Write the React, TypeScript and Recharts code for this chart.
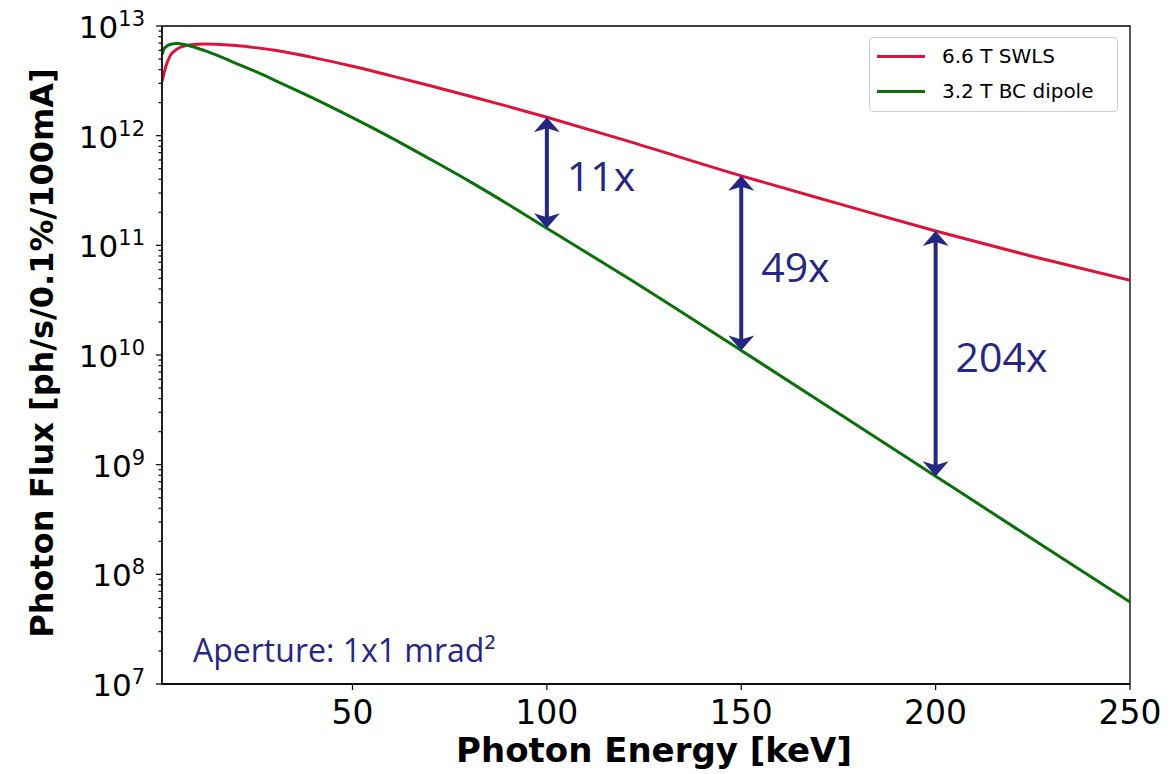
import { LineChart, Line, XAxis, YAxis, ReferenceLine, ReferenceArea, Legend, Customized } from "recharts";

// photon energy grid [keV]
const energy = [1, 1.5, 2, 3, 5, 8, 12, 16, 20, 25, 30, 40, 50, 60, 70, 80, 90, 100, 120, 150, 175, 200, 225, 250];

// 6.6 T SWLS flux [ph/s/0.1%/100mA]
const swlsFlux = [
  3.1e12, 3.7e12, 4.3e12, 5.25e12, 6.2e12, 6.7e12, 6.86e12, 6.79e12, 6.64e12, 6.35e12, 6.0e12, 5.15e12,
  4.29e12, 3.51e12, 2.85e12, 2.3e12, 1.85e12, 1.47e12, 9.1e11, 4.3e11, 2.4e11, 1.35e11, 7.9e10, 4.8e10,
];

// 3.2 T BC dipole flux [ph/s/0.1%/100mA]
const dipoleFlux = [
  5.5e12, 6.17e12, 6.46e12, 6.79e12, 6.92e12, 6.61e12, 5.96e12, 5.25e12, 4.57e12, 3.85e12, 3.2e12, 2.19e12,
  1.46e12, 9.55e11, 6.1e11, 3.85e11, 2.37e11, 1.43e11, 5.25e10, 1.1e10, 2.95e9, 7.85e8, 2.09e8, 5.6e7,
];

const seriesNames = ["6.6 T SWLS", "3.2 T BC dipole"];
const xTicks = [50, 100, 150, 200, 250];
const yDecades = [7, 8, 9, 10, 11, 12, 13];

// gain annotations, drawn between the two curves at these energies
const gains = [
  { energy: 100, label: "11x" },
  { energy: 150, label: "49x" },
  { energy: 200, label: "204x" },
];

const data = energy.map((e, i) => ({ energy: e, swls: swlsFlux[i], dipole: dipoleFlux[i] }));

// decade ticks plus log minor ticks
const yTicks = yDecades.flatMap((d) =>
  d === 13 ? [10 ** d] : [1, 2, 3, 4, 5, 6, 7, 8, 9].map((m) => m * 10 ** d)
);

const ANNOT = "#262683";
const AXIS = "#000";

function XTick({ x, y, payload }: any) {
  return (
    <g>
      <line x1={x} x2={x} y1={y} y2={y + 6} stroke={AXIS} strokeWidth={1.2} />
      <text x={x} y={y + 40} textAnchor="middle" fontFamily="DejaVu Sans" fontSize={33} fill="#000">
        {payload.value}
      </text>
    </g>
  );
}

function YTick({ x, y, payload }: any) {
  const v = payload.value;
  const exp = Math.floor(Math.log10(v) + 1e-9);
  const major = Math.abs(v / 10 ** exp - 1) < 1e-6;
  return (
    <g>
      <line x1={x - (major ? 6 : 3.5)} x2={x} y1={y} y2={y} stroke={AXIS} strokeWidth={1.2} />
      {major && (
        <text x={x - 17} y={y + 12} textAnchor="end" fontFamily="DejaVu Sans" fontSize={31} fill="#000">
          10
          <tspan dy={-12} fontSize={21}>
            {exp}
          </tspan>
        </text>
      )}
    </g>
  );
}

function XTitle({ viewBox }: any) {
  const vb = viewBox ?? { x: 154, y: 676, width: 968, height: 80 };
  return (
    <text
      x={vb.x + vb.width / 2 + 8}
      y={vb.y + 78}
      textAnchor="middle"
      fontFamily="DejaVu Sans"
      fontWeight="bold"
      fontSize={34}
      fill="#000"
    >
      Photon Energy [keV]
    </text>
  );
}

function YTitle({ viewBox }: any) {
  const vb = viewBox ?? { x: 10, y: 18, width: 144, height: 658 };
  const cx = vb.x + 35;
  const cy = vb.y + vb.height / 2 - 2;
  return (
    <text
      transform={`translate(${cx},${cy}) rotate(-90)`}
      textAnchor="middle"
      fontFamily="DejaVu Sans"
      fontWeight="bold"
      fontSize={32}
      fill="#000"
    >
      Photon Flux [ph/s/0.1%/100mA]
    </text>
  );
}

function GainArrow({ x1, y1, x2, y2, label }: any) {
  const x = x1;
  const top = Math.min(y1, y2);
  const bot = Math.max(y1, y2);
  return (
    <g>
      <line x1={x} x2={x} y1={top + 8} y2={bot - 8} stroke={ANNOT} strokeWidth={4} />
      <polygon points={`${x},${top} ${x + 13},${top + 15} ${x},${top + 11} ${x - 13},${top + 15}`} fill={ANNOT} />
      <polygon points={`${x},${bot} ${x + 13},${bot - 15} ${x},${bot - 11} ${x - 13},${bot - 15}`} fill={ANNOT} />
      <text x={x + 20} y={(top + bot) / 2 + 4} dy="0.35em" fontFamily="Open Sans" fontSize={41} fill={ANNOT}>
        {label}
      </text>
    </g>
  );
}

function LegendBox({ payload }: any) {
  const items = [...(payload || [])].sort(
    (a: any, b: any) => seriesNames.indexOf(a.value) - seriesNames.indexOf(b.value)
  );
  return (
    <div
      style={{
        width: 249,
        height: 75,
        boxSizing: "border-box",
        border: "1px solid #cfcfcf",
        borderRadius: 4,
        background: "#fff",
        position: "relative",
      }}
    >
      {items.map((p: any, i: number) => (
        <div
          key={i}
          style={{ position: "absolute", left: 7, top: 7 + i * 35, height: 22, display: "flex", alignItems: "center" }}
        >
          <span style={{ display: "inline-block", width: 48, height: 3, background: p.color }} />
          <span style={{ marginLeft: 17, fontFamily: "DejaVu Sans", fontSize: 20, color: "#000", whiteSpace: "nowrap" }}>
            {p.value}
          </span>
        </div>
      ))}
    </div>
  );
}

export default function App() {
  return (
    <LineChart width={1165} height={766} data={data} margin={{ top: 18, right: 43, left: 10, bottom: 10 }}>
      <XAxis
        dataKey="energy"
        type="number"
        domain={[1, 250]}
        ticks={xTicks}
        interval={0}
        height={80}
        tickSize={0}
        tickMargin={0}
        tick={<XTick />}
        tickLine={false}
        axisLine={{ stroke: AXIS, strokeWidth: 1.3 }}
        allowDataOverflow
        label={{ content: (p: any) => <XTitle {...p} /> }}
      />
      <YAxis
        type="number"
        scale="log"
        domain={[1e7, 1e13]}
        ticks={yTicks}
        interval={0}
        width={144}
        tickSize={0}
        tickMargin={0}
        tick={<YTick />}
        tickLine={false}
        axisLine={{ stroke: AXIS, strokeWidth: 1.3 }}
        allowDataOverflow
        label={{ content: (p: any) => <YTitle {...p} /> }}
      />
      {/* plot frame */}
      <ReferenceArea x1={1} x2={250} y1={1e7} y2={1e13} fill="none" stroke={AXIS} strokeWidth={1.3} ifOverflow="visible" />
      <Line type="monotone" dataKey="swls" name={seriesNames[0]} stroke="#dc143c" strokeWidth={3} dot={false} isAnimationActive={false} />
      <Line type="monotone" dataKey="dipole" name={seriesNames[1]} stroke="#0b700b" strokeWidth={3} dot={false} isAnimationActive={false} />
      {gains.map((g) => {
        const i = energy.indexOf(g.energy);
        return (
          <ReferenceLine
            key={g.label}
            segment={[
              { x: g.energy, y: dipoleFlux[i] },
              { x: g.energy, y: swlsFlux[i] },
            ]}
            shape={(p: any) => <GainArrow {...p} label={g.label} />}
          />
        );
      })}
      <Customized
        component={() => (
          <text x={185} y={654} fontFamily="Open Sans" fontSize={32} fill={ANNOT}>
            Aperture: 1x1 mrad²
          </text>
        )}
      />
      <Legend
        layout="horizontal"
        verticalAlign="middle"
        align="center"
        wrapperStyle={{ left: 861, top: 29, width: 249, height: 75 }}
        content={<LegendBox />}
      />
    </LineChart>
  );
}
